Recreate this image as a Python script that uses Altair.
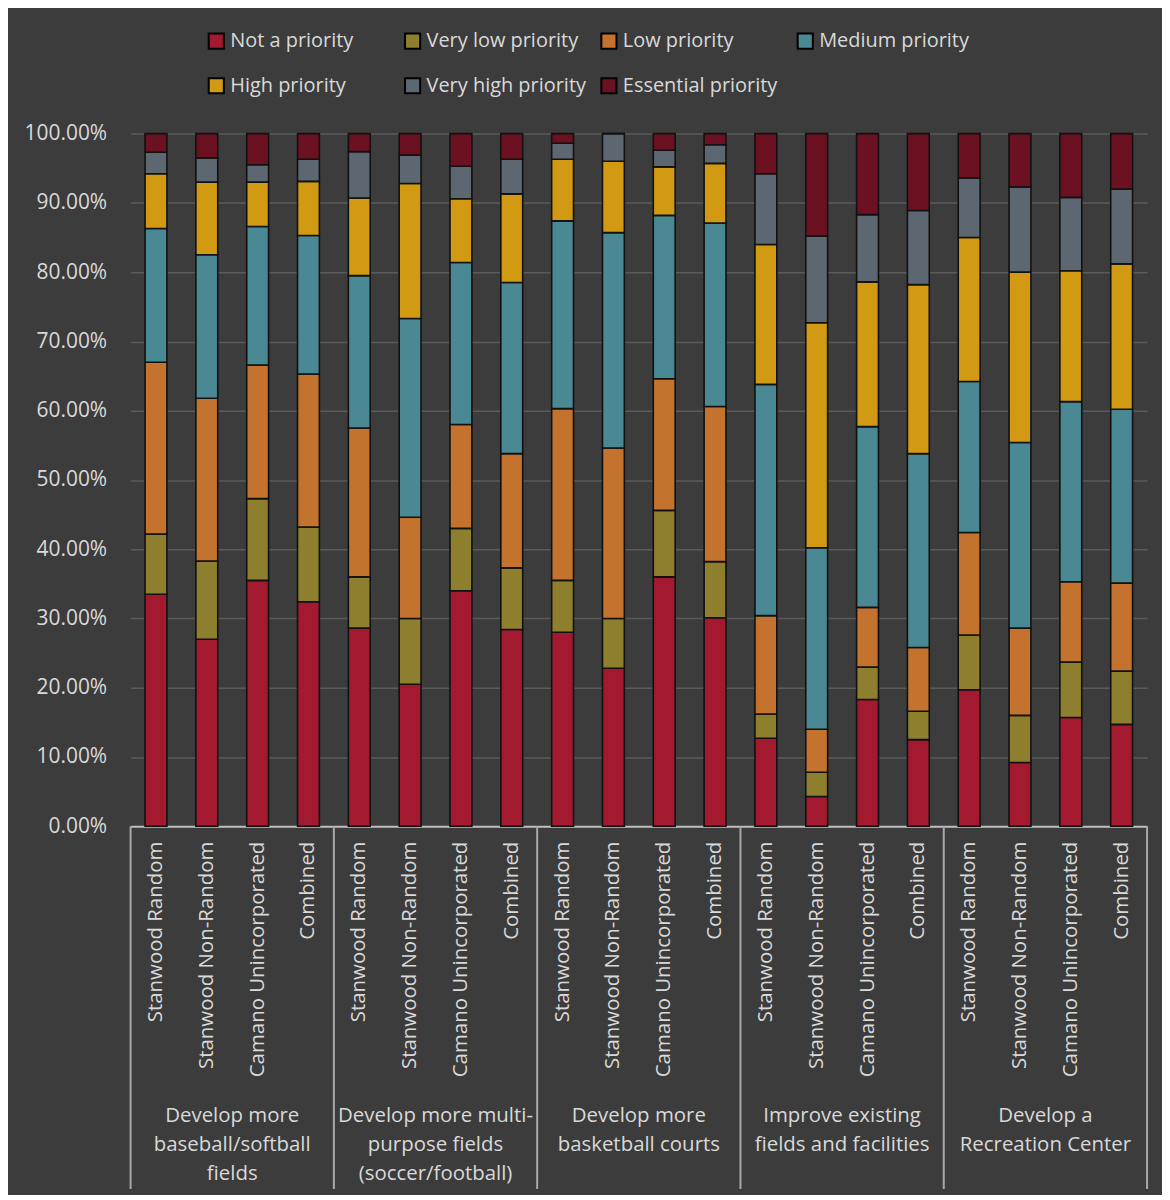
import altair as alt
import pandas as pd

groups = [
    "Develop more\nbaseball/softball\nfields",
    "Develop more multi-\npurpose fields\n(soccer/football)",
    "Develop more\nbasketball courts",
    "Improve existing\nfields and facilities",
    "Develop a\nRecreation Center",
]
subs = ["Stanwood Random", "Stanwood Non-Random", "Camano Unincorporated", "Combined"]
levels = ["Not a priority", "Very low priority", "Low priority", "Medium priority",
          "High priority", "Very high priority", "Essential priority"]
colors = ["#A3192F", "#8E7F2E", "#C4732E", "#4A8893", "#D19A12", "#5C6771", "#6B1121"]

# one value per bar (5 groups x 4 subgroups), in percent
not_priority = [33.5, 27.0, 35.5, 32.4, 28.6, 20.5, 34.0, 28.4, 28.0, 22.8, 36.0, 30.1,
                12.7, 4.3, 18.3, 12.5, 19.7, 9.2, 15.7, 14.7]
very_low = [8.7, 11.3, 11.8, 10.8, 7.4, 9.5, 9.0, 8.9, 7.5, 7.2, 9.6, 8.1,
            3.5, 3.5, 4.7, 4.1, 7.9, 6.8, 8.0, 7.7]
low = [24.8, 23.5, 19.3, 22.1, 21.5, 14.6, 15.0, 16.5, 24.8, 24.6, 19.0, 22.4,
       14.2, 6.2, 8.6, 9.2, 14.8, 12.6, 11.6, 12.7]
medium = [19.3, 20.7, 20.0, 20.0, 22.0, 28.7, 23.4, 24.7, 27.1, 31.1, 23.6, 26.5,
          33.4, 26.2, 26.1, 28.0, 21.8, 26.8, 26.0, 25.1]
high = [7.9, 10.5, 6.4, 7.8, 11.2, 19.5, 9.2, 12.8, 8.9, 10.3, 7.0, 8.6,
        20.2, 32.5, 20.9, 24.4, 20.8, 24.6, 18.9, 21.0]
very_high = [3.1, 3.5, 2.5, 3.2, 6.7, 4.1, 4.7, 5.0, 2.3, 4.0, 2.4, 2.7,
             10.2, 12.5, 9.7, 10.7, 8.6, 12.3, 10.6, 10.8]
essential = [2.7, 3.5, 4.5, 3.7, 2.6, 3.1, 4.7, 3.7, 1.4, 0.0, 2.4, 1.6,
             5.8, 14.8, 11.7, 11.1, 6.4, 7.7, 9.2, 8.0]

series = [not_priority, very_low, low, medium, high, very_high, essential]

rows = []
keys = []
for gi, g in enumerate(groups):
    for si, s in enumerate(subs):
        idx = gi * 4 + si
        key = f"{gi}|{s}"
        keys.append(key)
        for li, lev in enumerate(levels):
            rows.append({"key": key, "level": lev, "ord": li, "value": series[li][idx]})
df = pd.DataFrame(rows)

bounds = pd.DataFrame({"pos": [0, 4, 8, 12, 16, 20]})
glabels = pd.DataFrame({"pos": [2, 6, 10, 14, 18], "label": groups})

W = 1020
H = 695
FONT = "Open Sans"
TXT = "#d9d9d9"

bars = alt.Chart(df).mark_bar(stroke="#111111", strokeWidth=1.6).encode(
    x=alt.X("key:N", sort=keys,
            scale=alt.Scale(paddingInner=0.57, paddingOuter=0.285),
            axis=alt.Axis(title=None, labelExpr="split(datum.value, '|')[1]",
                          labelAngle=-90, ticks=False, domain=True,
                          domainColor="#bdbdbd", domainWidth=2,
                          labelPadding=15, labelFontSize=20.5, labelColor=TXT,
                          labelFont=FONT, labelLimit=400)),
    y=alt.Y("value:Q", stack="normalize",
            scale=alt.Scale(domain=[0, 1]),
            axis=alt.Axis(title=None, labelExpr="format(datum.value, '.2%')",
                          values=[i / 10 for i in range(11)],
                          domain=False, ticks=False, grid=True,
                          gridColor="#5a5a5a", gridWidth=1.5,
                          labelPadding=24, labelFontSize=21, labelColor=TXT,
                          labelFont=FONT)),
    color=alt.Color("level:N", sort=levels,
                    scale=alt.Scale(domain=levels, range=colors),
                    legend=alt.Legend(title=None, orient="none", legendX=76, legendY=-103,
                                      direction="horizontal",
                                      columns=4, gridAlign="all", columnPadding=10,
                                      rowPadding=21, symbolType="square",
                                      symbolSize=230, symbolStrokeColor="#000000",
                                      symbolStrokeWidth=2, symbolOpacity=1,
                                      labelFontSize=20, labelColor=TXT, labelFont=FONT,
                                      labelOffset=4, labelLimit=300)),
    order=alt.Order("ord:Q", sort="ascending"),
)

seps = alt.Chart(bounds).mark_rule(color="#a8a8a8", strokeWidth=2).encode(
    x=alt.X("pos:Q", scale=alt.Scale(domain=[0, 20], nice=False, zero=False), axis=None),
    y=alt.value(H),
    y2=alt.value(H + 364),
)

gtext = alt.Chart(glabels).mark_text(
    lineBreak="\n", baseline="top", align="center", fontSize=20.5,
    font=FONT, color=TXT, lineHeight=29,
).encode(
    x=alt.X("pos:Q", scale=alt.Scale(domain=[0, 20], nice=False, zero=False), axis=None),
    y=alt.value(H + 281),
    text="label:N",
)

chart = alt.layer(bars, seps, gtext).resolve_scale(x="independent").properties(
    width=W, height=H, background="#3c3c3c",
    padding={"left": 16, "top": 21, "right": 14, "bottom": 3},
).configure_view(stroke=None)

chart.save("out.html", embed_options={"renderer": "svg", "actions": False})
